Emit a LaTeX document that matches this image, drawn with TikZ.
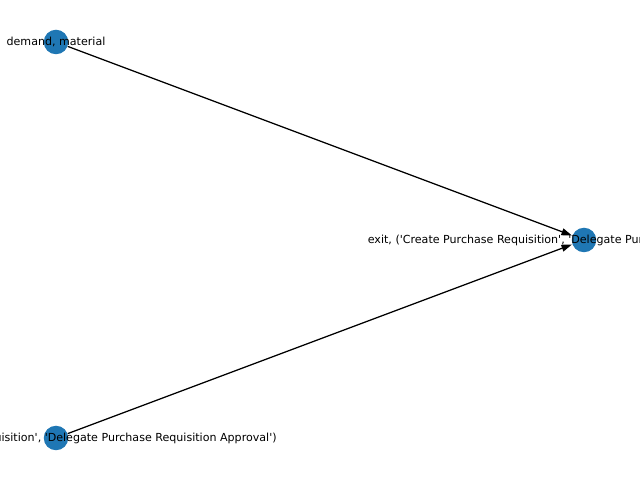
\documentclass[tikz,border=0pt]{standalone}
\usepackage{fontspec}
\setmainfont{DejaVu Sans}
\usetikzlibrary{arrows.meta}
\definecolor{nodeblue}{HTML}{1F77B4}
\newcommand{\sq}{\textquotesingle}
\tikzset{
  vert/.style={circle, fill=nodeblue, draw=none, minimum size=24.5*0.01in, inner sep=0pt},
  lbl/.style={font=\fontsize{8pt}{9.6pt}\selectfont, inner sep=0pt, text=black},
  edge/.style={draw=black, line width=0.9pt, -{Triangle[length=7.5pt,width=5pt]}, shorten >=0.3pt}
}
\begin{document}
\begin{tikzpicture}[x=0.01in, y=-0.01in]
\useasboundingbox (0,0) rectangle (640,480);
\clip (0,0) rectangle (640,480);
\fill[white] (0,0) rectangle (640,480);
\node[vert] (a) at (56,42) {};
\node[vert] (b) at (584,240) {};
\node[vert] (c) at (56,438) {};
\draw[edge] (a) -- (b);
\draw[edge] (c) -- (b);
\node[lbl] (la) at (a.center) {demand, material};
\node[lbl] (lb) at (b.center) {exit, (\sq Create Purchase Requisition\sq, \sq Delegate Purchase Requisition Approval\sq)};
\node[lbl] (lc) at (c.center) {enter, (\sq Create Purchase Requisition\sq, \sq Delegate Purchase Requisition Approval\sq)};
\end{tikzpicture}
\end{document}
